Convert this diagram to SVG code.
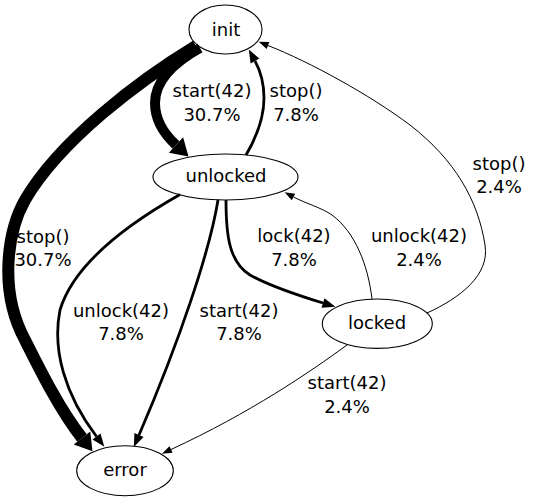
<svg xmlns="http://www.w3.org/2000/svg" width="537" height="501" viewBox="0 0 537 501">
<style>
.node ellipse{fill:#fff;stroke:#000;stroke-width:1.1}
text{font-family:"DejaVu Sans","Liberation Sans",sans-serif;font-size:18px;fill:#000;text-anchor:middle}
.edge path{fill:none;stroke:#000}
.w1{stroke-width:1;marker-end:url(#aThin)}
.w3{stroke-width:2.8;marker-end:url(#aMed)}
.w10{stroke-width:10;marker-end:url(#aThick)}
.w12{stroke-width:12;marker-end:url(#aThick)}
</style>
<defs>
<marker id="aThin" markerUnits="userSpaceOnUse" orient="auto" refX="0" refY="0" markerWidth="12" markerHeight="10" overflow="visible"><path d="M0,-3.7 L10,0 L0,3.7 Z" fill="#000"/></marker>
<marker id="aMed" markerUnits="userSpaceOnUse" orient="auto" refX="0" refY="0" markerWidth="14" markerHeight="12" overflow="visible"><path d="M0,-5 L13,0 L0,5 Z" fill="#000"/></marker>
<marker id="aThick" markerUnits="userSpaceOnUse" orient="auto" refX="0" refY="0" markerWidth="18" markerHeight="22" overflow="visible"><path d="M0,-10.5 L17,0 L0,10.5 Z" fill="#000"/></marker>
</defs>
<rect width="537" height="501" fill="#fff"/>
<g id="init" class="node"><ellipse cx="225.5" cy="29.5" rx="36.5" ry="24.5"/><text x="226" y="36">init</text></g>
<g id="unlocked" class="node"><ellipse cx="225.5" cy="177" rx="72.5" ry="23"/><text x="226" y="182">unlocked</text></g>
<g id="locked" class="node"><ellipse cx="377.3" cy="323.7" rx="55" ry="24.7"/><text x="377" y="329">locked</text></g>
<g id="error" class="node"><ellipse cx="125" cy="470.7" rx="48.3" ry="25"/><text x="125" y="476">error</text></g>
<g id="connectors" class="edge">
<path class="w12" d="M196,46 C140,80 60,140 25,200 C8,230 -2,290 25,340 C40,370 60,410 82,438"/>
<path class="w10" d="M200,48 C175,62 155,80 155,103 C155,120 163,133 176,145"/>
<path class="w3" d="M246,155 C256,138 264,118 264,98 C264,85 261,72 255,61"/>
<path class="w1" d="M427,313 C460,298 490,275 485,245 C478,200 455,160 410,125 C370,95 310,62 268,45.5"/>
<path class="w1" d="M372,299 C368,265 355,232 332,215 C322,208 305,203 293.5,197"/>
<path class="w3" d="M226,200 C226,235 229,262 250,275 C270,286 300,296 323,303"/>
<path class="w3" d="M180,194.5 C135,220 75,260 60,310 C52,350 65,395 96.5,436.5"/>
<path class="w3" d="M218,200 C210,250 180,340 139,435"/>
<path class="w1" d="M347,345 C310,372 250,413 171,449.5"/>
<text x="212" y="97">start(42)</text><text x="212" y="121">30.7%</text>
<text x="296" y="97">stop()</text><text x="296" y="121">7.8%</text>
<text x="43" y="243">stop()</text><text x="43" y="266">30.7%</text>
<text x="121" y="317">unlock(42)</text><text x="121" y="340">7.8%</text>
<text x="239" y="317">start(42)</text><text x="239" y="340">7.8%</text>
<text x="294" y="242">lock(42)</text><text x="294" y="266">7.8%</text>
<text x="419" y="242">unlock(42)</text><text x="419" y="266">2.4%</text>
<text x="499" y="170">stop()</text><text x="499" y="193">2.4%</text>
<text x="347" y="389">start(42)</text><text x="347" y="413">2.4%</text>
</g>
</svg>
